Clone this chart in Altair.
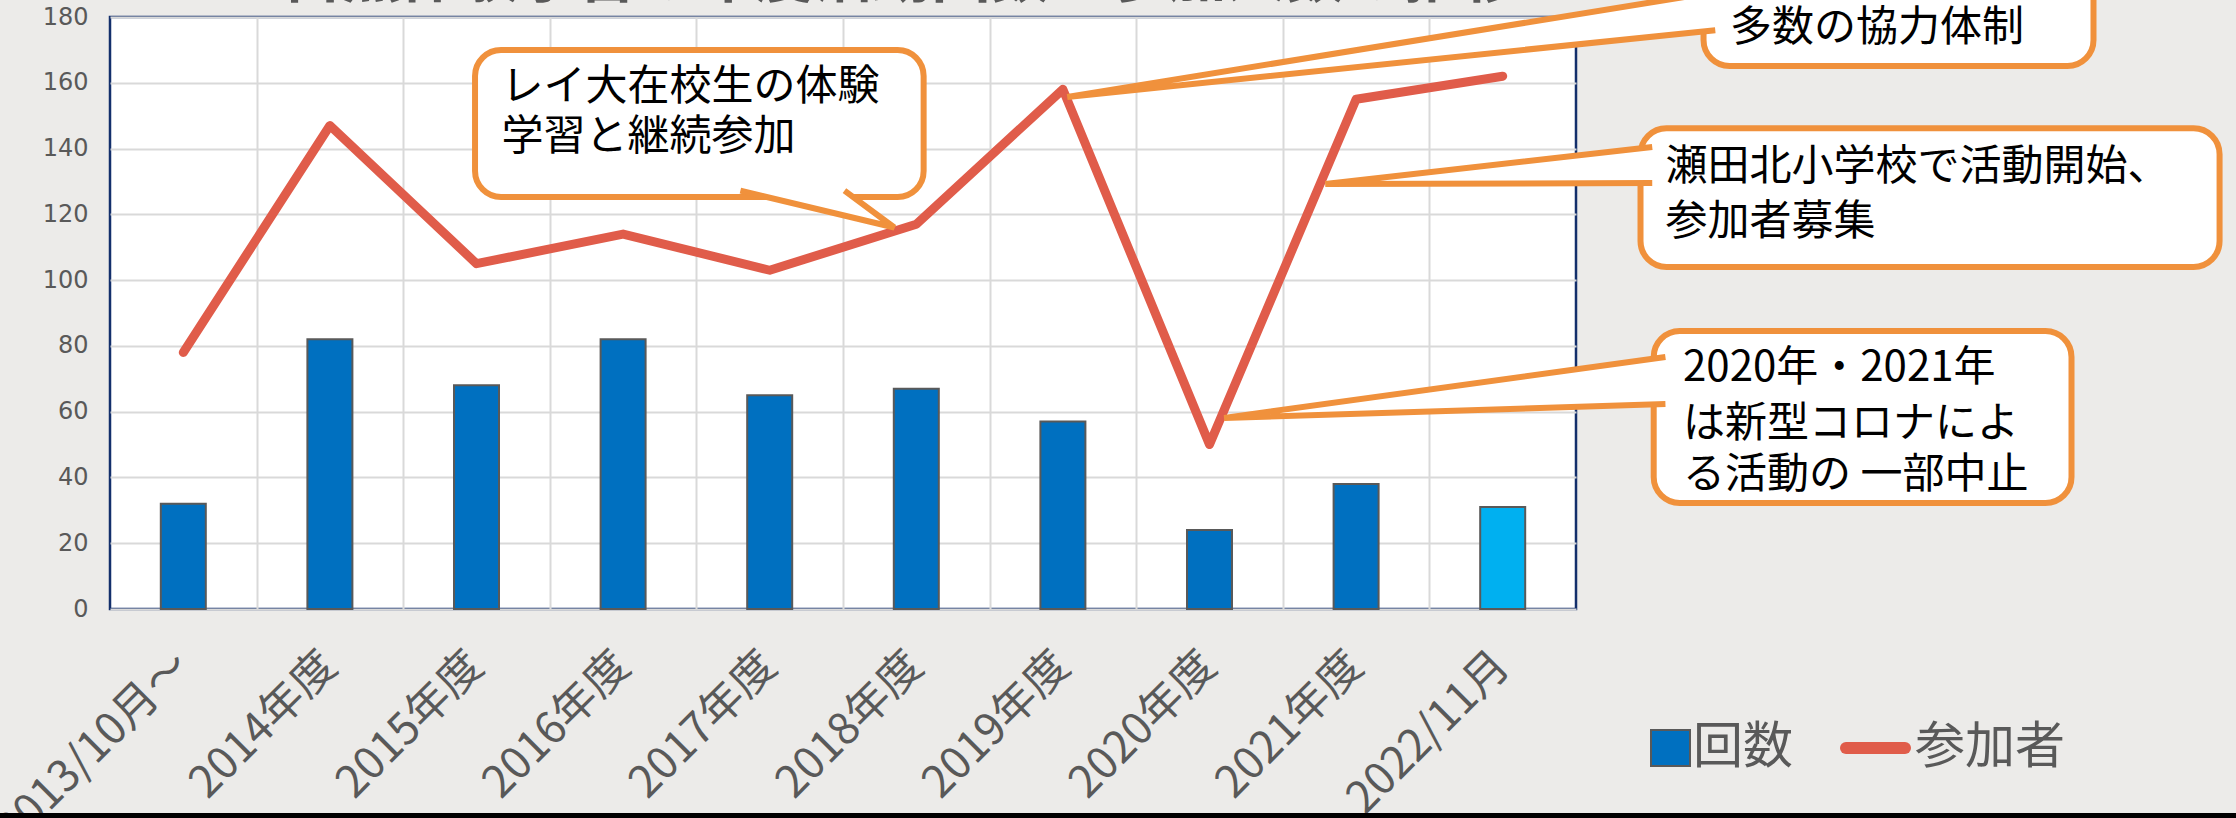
import altair as alt
import pandas as pd

# ---------------- data ----------------
categories = ["2013/10月～", "2014年度", "2015年度", "2016年度", "2017年度",
              "2018年度", "2019年度", "2020年度", "2021年度", "2022/11月"]
sessions = [32, 82, 68, 82, 65, 67, 57, 24, 38, 31]          # 回数
participants = [78, 147, 105, 114, 103, 117, 158, 50, 155, 162]  # 参加者

title_text = "自然体験学習の年度活動回数と参加人数の推移"

# callout boxes (annotation space: u = category index units, v = value units)
box_ids = [1, 2, 3, 4]
box_u1 = [2.49, 10.87, 10.44, 10.53]
box_u2 = [5.55, 13.53, 14.39, 13.38]
box_v1 = [125.3, 165.1, 104.0, 32.2]
box_v2 = [170.0, 215.0, 146.2, 84.5]

text_lines = ["レイ大在校生の体験", "学習と継続参加",
              "多数の協力体制",
              "瀬田北小学校で活動開始、", "参加者募集",
              "2020年・2021年", "は新型コロナによ", "る活動の 一部中止"]
text_u = [2.67, 2.67, 11.05, 10.61, 10.61, 10.73, 10.73, 10.73]
text_v = [158.7, 143.5, 176.6, 134.4, 117.7, 73.3, 56.2, 40.7]

# pointer wedges: base point, tip, base point
wedge_id = [1, 1, 1, 2, 2, 2, 3, 3, 3, 4, 4, 4]
wedge_ord = [0, 1, 2] * 4
wedge_u = [4.30, 5.35, 5.01,
           10.95, 6.53, 10.95,
           10.52, 8.29, 10.52,
           10.61, 7.60, 10.61]
wedge_v = [127.2, 116.0, 127.2,
           187.6, 155.7, 176.0,
           140.5, 129.2, 129.5,
           76.6, 58.1, 62.3]

legend_labels = ["回数", "参加者"]

# ---------------- styling ----------------
W, H = 1466, 592
BG = "#ECEBE9"
BLUE = "#0070C0"
LIGHTBLUE = "#00B0F0"
RED = "#E05C4A"
ORANGE = "#F0913C"
GRAY = "#595959"
GRID = "#D9D9D9"
JP = "Noto Sans CJK JP"

df = pd.DataFrame({"cat": categories, "count": sessions, "people": participants})

y_scale = alt.Scale(domain=[0, 180], nice=False, zero=True)
y_axis = alt.Axis(values=list(range(0, 181, 20)), grid=True, gridColor=GRID,
                  gridWidth=2, domain=False, ticks=False, labelFont="DejaVu Sans",
                  labelFontSize=24, labelColor=GRAY, labelPadding=22, title=None)

x_axis = alt.Axis(orient="bottom", labelAngle=-45, labelAlign="right", labelBaseline="middle",
                  labelFont=JP, labelFontSize=44, labelColor=GRAY, labelPadding=50,
                  labelLimit=0, labelOverlap=False, domain=False, ticks=False,
                  grid=False, title=None)

x_band = alt.X("cat:N", sort=categories, scale=alt.Scale(paddingInner=0, paddingOuter=0),
               axis=x_axis)
x_band_noaxis = alt.X("cat:N", sort=categories, scale=alt.Scale(paddingInner=0, paddingOuter=0),
                      axis=None)

u_scale = alt.Scale(domain=[0, 10], nice=False, zero=False)
u_grid_axis = alt.Axis(orient="bottom", values=list(range(1, 10)), grid=True, gridColor=GRID,
                       gridWidth=2, labels=False, ticks=False, domain=False, title=None)

bars = alt.Chart(df).mark_bar(size=45, stroke=GRAY, strokeWidth=2).encode(
    x=x_band,
    y=alt.Y("count:Q", scale=y_scale, axis=y_axis),
    color=alt.condition(alt.datum.cat == "2022/11月", alt.value(LIGHTBLUE), alt.value(BLUE)),
)

line = alt.Chart(df).mark_line(color=RED, strokeWidth=9, strokeCap="round",
                               strokeJoin="round").encode(
    x=x_band_noaxis,
    y=alt.Y("people:Q", scale=y_scale, axis=y_axis),
)

# vertical grid through annotation (index) scale
grid_df = pd.DataFrame({"u": [0.0], "v": [0.0]})
grid_layer = alt.Chart(grid_df).mark_point(opacity=0).encode(
    x=alt.X("u:Q", scale=u_scale, axis=u_grid_axis),
    y=alt.Y("v:Q", scale=y_scale, axis=y_axis),
)

boxes_df = pd.DataFrame({"id": box_ids, "u1": box_u1, "u2": box_u2, "v1": box_v1, "v2": box_v2})
boxes = alt.Chart(boxes_df).mark_rect(fill="white", stroke=ORANGE, strokeWidth=6,
                                      cornerRadius=26).encode(
    x=alt.X("u1:Q", scale=u_scale, axis=None), x2="u2:Q",
    y=alt.Y("v1:Q", scale=y_scale, axis=y_axis), y2="v2:Q",
)

wedges_df = pd.DataFrame({"id": wedge_id, "o": wedge_ord, "u": wedge_u, "v": wedge_v})
wedges = alt.Chart(wedges_df).mark_line(fill="white", stroke=ORANGE, strokeWidth=6,
                                        strokeJoin="miter", filled=False).encode(
    x=alt.X("u:Q", scale=u_scale, axis=None),
    y=alt.Y("v:Q", scale=y_scale, axis=y_axis),
    detail="id:N",
    order="o:Q",
)

texts_df = pd.DataFrame({"t": text_lines, "u": text_u, "v": text_v})
texts = alt.Chart(texts_df).mark_text(font=JP, fontSize=42, color="black", align="left",
                                      baseline="middle").encode(
    x=alt.X("u:Q", scale=u_scale, axis=None),
    y=alt.Y("v:Q", scale=y_scale, axis=y_axis),
    text="t:N",
)

one = pd.DataFrame({"a": [0]})
title = alt.Chart(one).mark_text(text=title_text, font=JP, fontSize=59, fontWeight="bold",
                                 color=GRAY, align="center", baseline="alphabetic").encode(
    x=alt.value(792), y=alt.value(-20))

# legend
leg_square = alt.Chart(one).mark_rect(color=BLUE, stroke=GRAY, strokeWidth=2).encode(
    x=alt.value(1541), x2=alt.value(1580), y=alt.value(713), y2=alt.value(749))
leg_text1 = alt.Chart(one).mark_text(text=legend_labels[0], font=JP, fontSize=50, color=GRAY,
                                     align="left", baseline="middle").encode(
    x=alt.value(1583), y=alt.value(731))
leg_line = alt.Chart(one).mark_rule(color=RED, strokeWidth=12, strokeCap="round").encode(
    x=alt.value(1736), x2=alt.value(1795), y=alt.value(731))
leg_text2 = alt.Chart(one).mark_text(text=legend_labels[1], font=JP, fontSize=50, color=GRAY,
                                     align="left", baseline="middle").encode(
    x=alt.value(1805), y=alt.value(731))

bottom_strip = alt.Chart(one).mark_rect(color="black").encode(
    x=alt.value(-120), x2=alt.value(2140), y=alt.value(796), y2=alt.value(805))

chart = alt.layer(
    grid_layer, bars, line, boxes, wedges,
    texts, title, leg_square, leg_text1, leg_line, leg_text2, bottom_strip
).resolve_scale(x="independent").properties(
    width=W, height=H,
    autosize=alt.AutoSizeParams(type="none"),
    padding={"left": 110, "top": 17, "right": 660, "bottom": 209},
    background=BG,
).configure_view(fill="white", stroke="#132F6B", strokeWidth=2.5)

chart.save("out.html", embed_options={"renderer": "svg", "actions": False})
